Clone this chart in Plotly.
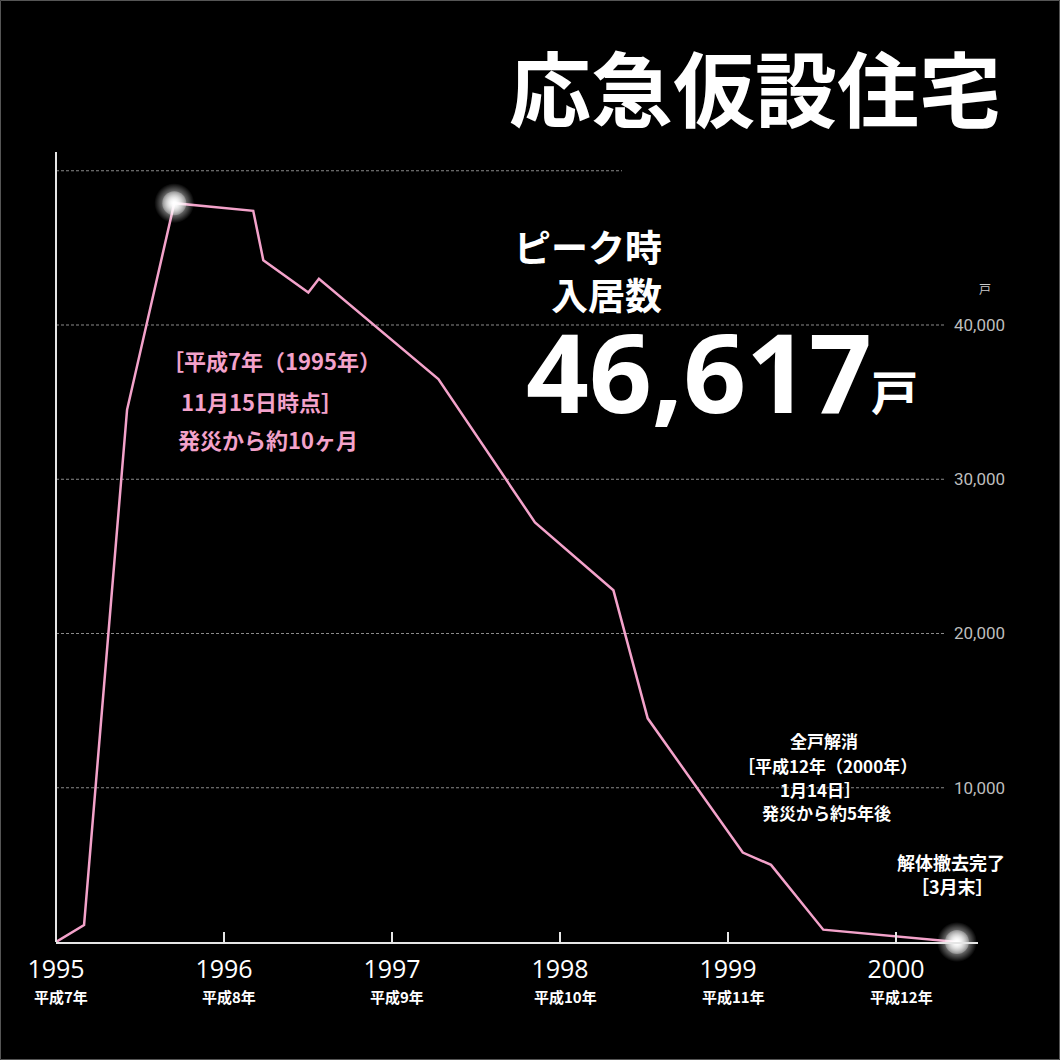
import plotly.graph_objects as go

# ---- data ----
years = [1995.0, 1995.167, 1995.423, 1995.704, 1996.174, 1996.234, 1996.502,
         1996.565, 1997.276, 1997.851, 1998.318, 1998.522, 1999.088, 1999.256,
         1999.567, 2000.363]
households = [0, 1100, 34500, 47900, 47400, 44200, 42100, 43000, 36500,
              27200, 22800, 14500, 5800, 5000, 800, 0]
glow_idx = [3, 15]  # peak and demolition-complete points

tick_years = [1995, 1996, 1997, 1998, 1999, 2000]
tick_year_text = ["1995", "1996", "1997", "1998", "1999", "2000"]
heisei_text = ["平成7年", "平成8年", "平成9年", "平成10年", "平成11年", "平成12年"]

y_ticks = [10000, 20000, 30000, 40000]
y_tick_text = ["10,000", "20,000", "30,000", "40,000"]
top_grid = 50000

# ---- layout geometry (pixels) ----
FIG = 1060
L, R, T, B = 56, 978, 152, 942
W, H = R - L, B - T
PX_PER_YEAR = 168.0
PX_PER_UNIT = 0.015425

def pp(x, y):
    return (x - L) / W, (B - y) / H

CJK = "Noto Sans CJK JP"
NUM = "Open Sans, Noto Sans CJK JP"
PINK = "#f3a2ca"

fig = go.Figure()

fig.add_trace(go.Scatter(
    x=years, y=households, mode="lines",
    line=dict(color=PINK, width=2.5), hoverinfo="skip", showlegend=False))

gx = [years[i] for i in glow_idx]
gy = [households[i] for i in glow_idx]
fig.add_trace(go.Scatter(
    x=gx, y=gy, mode="markers", cliponaxis=False, showlegend=False, hoverinfo="skip",
    marker=dict(size=40, color="rgba(255,255,255,0)", line=dict(width=0),
                gradient=dict(type="radial", color="rgba(255,255,255,1)"))))
fig.add_trace(go.Scatter(
    x=gx, y=gy, mode="markers", cliponaxis=False, showlegend=False, hoverinfo="skip",
    marker=dict(size=24, color="rgba(255,255,255,0.25)", line=dict(width=0),
                gradient=dict(type="radial", color="rgba(255,255,255,1)"))))

shapes = []
# gridlines
gx1 = pp(945, 0)[0]
for v in y_ticks:
    shapes.append(dict(type="line", xref="paper", yref="y", x0=0, x1=gx1, y0=v, y1=v,
                       line=dict(color="#8a8a8a", width=1, dash="3px,2px"), layer="below"))
shapes.append(dict(type="line", xref="paper", yref="y", x0=0, x1=pp(622, 0)[0],
                   y0=top_grid, y1=top_grid,
                   line=dict(color="#8a8a8a", width=1, dash="3px,2px"), layer="below"))
# left vertical axis line
shapes.append(dict(type="line", xref="paper", yref="paper", x0=0, x1=0, y0=0, y1=1,
                   line=dict(color="#e6e6e6", width=2)))
# thin frame
bx0, by0 = pp(0.5, FIG - 0.5)
bx1, by1 = pp(FIG - 0.5, 0.5)
shapes.append(dict(type="rect", xref="paper", yref="paper", x0=bx0, x1=bx1, y0=by0, y1=by1,
                   line=dict(color="#555555", width=1)))

ann = []
def add_text(text, x, y, size, color="white", xanchor="center", family=CJK, bold=True,
             align="center"):
    ax, ay = pp(x, y)
    t = f"<b>{text}</b>" if bold else text
    ann.append(dict(text=t, x=ax, y=ay, xref="paper", yref="paper", showarrow=False,
                    xanchor=xanchor, yanchor="middle", align=align,
                    font=dict(family=family, size=size, color=color)))

add_text("応急仮設住宅", 755, 85, 82)
add_text("ピーク時<br>入居数", 664, 270, 37, xanchor="right", align="right")
add_text("46,617", 699, 370, 110, family="Open Sans")
add_text("戸", 894, 389, 47)
add_text("戸", 985, 288, 12, color="#cccccc", bold=False)

add_text("［平成7年（1995年）", 271, 360, 22, color=PINK)
add_text("11月15日時点］", 262, 401, 22, color=PINK)
add_text("発災から約10ヶ月", 268, 439, 22, color=PINK)

add_text("全戸解消", 824, 740, 17)
add_text("［平成12年（2000年）", 827, 765, 17)
add_text("1月14日］", 820, 789, 17)
add_text("発災から約5年後", 826, 812, 17)

add_text("解体撤去完了", 951, 862, 18)
add_text("［3月末］", 952, 886, 18)

# heisei sub-labels under each year tick
hy = pp(0, 997)[1]
for yr, txt in zip(tick_years, heisei_text):
    ann.append(dict(text=f"<b>{txt}</b>", x=yr, y=hy, xref="x", yref="paper",
                    showarrow=False, xanchor="center", yanchor="middle", xshift=5,
                    font=dict(family=CJK, size=15, color="white")))

fig.update_layout(
    width=FIG, height=FIG,
    margin=dict(l=L, r=FIG - R, t=T, b=FIG - B, pad=0),
    paper_bgcolor="black", plot_bgcolor="black",
    shapes=shapes, annotations=ann,
    xaxis=dict(range=[1995, 1995 + W / PX_PER_YEAR], tickvals=tick_years,
               ticktext=tick_year_text, showgrid=False, zeroline=False,
               showline=True, linecolor="#e6e6e6", linewidth=2,
               ticks="inside", ticklen=10, tickwidth=2, tickcolor="#e6e6e6",
               ticklabelstandoff=4,
               tickfont=dict(family=NUM, size=25, color="white")),
    yaxis=dict(range=[0, H / PX_PER_UNIT], tickvals=y_ticks, ticktext=y_tick_text,
               side="right", anchor="free", position=(953 - L) / W,
               showgrid=False, zeroline=False, showline=False, ticks="",
               tickfont=dict(family="Roboto", size=17, color="#bdbdbd")),
)

fig.write_html("out.html", post_script="document.body.style.margin='0';",
               config={"displayModeBar": False})
